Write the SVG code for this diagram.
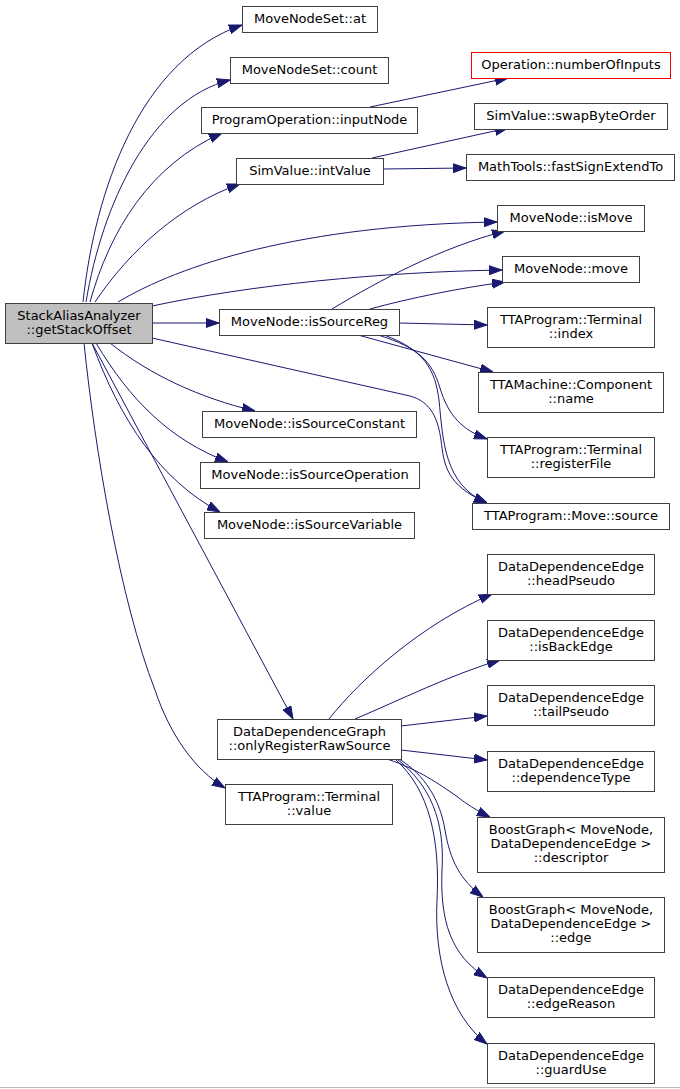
<svg xmlns="http://www.w3.org/2000/svg" width="680" height="1089" viewBox="0 0 680 1089">
<defs>
<marker id="arr" viewBox="0 0 13 10" refX="13" refY="5" markerWidth="13" markerHeight="10" markerUnits="userSpaceOnUse" orient="auto">
<path d="M0,0.5 L13,5 L0,9.5 z" fill="#191970" stroke="#191970" stroke-width="1"/>
</marker>
</defs>
<style>
.n rect{fill:#ffffff;stroke:#404040;stroke-width:1}
.n text{font-family:"DejaVu Sans","Noto Sans",sans-serif;font-size:13px;fill:#000;text-anchor:middle}
#n_root rect{fill:#bfbfbf}
#n_numin rect{stroke:#ff0000}
.e path{fill:none;stroke:#191970;stroke-width:1;marker-end:url(#arr)}
</style>
<rect x="0" y="0" width="680" height="1089" fill="#ffffff"/>
<line x1="0" y1="1087.5" x2="680" y2="1087.5" stroke="#bbbbbb" stroke-width="1"/>
<g id="edges" class="e">
<path d="M83,302 C95,190 140,60 242,25"/>
<path d="M86,302 C102,205 150,100 230,80"/>
<path d="M90,302 C110,230 150,165 222,133"/>
<path d="M95,302 C130,250 180,205 240,184"/>
<path d="M118,302 C180,265 300,225 497,222"/>
<path d="M152,306 C250,285 380,272 502,270"/>
<path d="M152,323 L219,323"/>
<path d="M152,338 L410,396 C432,402 438,420 441,440 C444,465 446,485 487,503"/>
<path d="M110,343 C150,375 200,398 255,411"/>
<path d="M96,343 C130,400 170,440 228,462"/>
<path d="M92,343 C120,420 160,480 220,512"/>
<path d="M92,343 L293,719"/>
<path d="M84,343 C95,450 120,600 155,690 C170,735 195,770 225,788"/>
<path d="M370,107 L508,78"/>
<path d="M372,158 L508,128"/>
<path d="M383,169 L466,168"/>
<path d="M332,309 C380,280 440,248 505,231"/>
<path d="M370,309 C410,298 460,288 505,282"/>
<path d="M399,323 L487,325"/>
<path d="M358,335 L493,372"/>
<path d="M378,335 C420,348 432,362 440,388 C448,415 462,430 487,439"/>
<path d="M384,335 C425,350 435,370 439,400 C443,440 444,485 487,503"/>
<path d="M329,719 C360,680 420,625 492,594"/>
<path d="M355,719 C400,700 450,675 500,660"/>
<path d="M401,726 L487,716"/>
<path d="M401,750 L487,760"/>
<path d="M387,759 C420,770 440,785 455,795 C465,803 477,811 490,817"/>
<path d="M399,759 C425,775 440,800 445,830 C450,860 460,880 483,897"/>
<path d="M397,759 C430,785 445,820 442,870 C440,920 450,955 487,978"/>
<path d="M395,759 C430,790 440,840 437,900 C434,960 450,1015 487,1044"/>
</g>
<g id="n_root" class="n"><rect x="5.5" y="303.5" width="147" height="40"/><text x="79" y="320">StackAliasAnalyzer</text><text x="79" y="334">::getStackOffset</text></g>
<g id="n_at" class="n"><rect x="242.5" y="6.5" width="135" height="26"/><text x="310" y="23">MoveNodeSet::at</text></g>
<g id="n_count" class="n"><rect x="230.5" y="57.5" width="158" height="26"/><text x="309.5" y="74">MoveNodeSet::count</text></g>
<g id="n_input" class="n"><rect x="201.5" y="107.5" width="216" height="26"/><text x="309.5" y="124">ProgramOperation::inputNode</text></g>
<g id="n_intval" class="n"><rect x="236.5" y="158.5" width="147" height="26"/><text x="310" y="175">SimValue::intValue</text></g>
<g id="n_numin" class="n"><rect x="471.5" y="52.5" width="199" height="26"/><text x="571" y="69">Operation::numberOfInputs</text></g>
<g id="n_swap" class="n"><rect x="474.5" y="103.5" width="193" height="26"/><text x="571" y="120">SimValue::swapByteOrder</text></g>
<g id="n_fast" class="n"><rect x="466.5" y="154.5" width="208" height="26"/><text x="570.5" y="171">MathTools::fastSignExtendTo</text></g>
<g id="n_ismove" class="n"><rect x="497.5" y="205.5" width="147" height="26"/><text x="571" y="222">MoveNode::isMove</text></g>
<g id="n_move" class="n"><rect x="502.5" y="256.5" width="137" height="26"/><text x="571" y="273">MoveNode::move</text></g>
<g id="n_isreg" class="n"><rect x="219.5" y="309.5" width="180" height="26"/><text x="309.5" y="326">MoveNode::isSourceReg</text></g>
<g id="n_index" class="n"><rect x="487.5" y="307.5" width="167" height="40"/><text x="571" y="324">TTAProgram::Terminal</text><text x="571" y="338">::index</text></g>
<g id="n_name" class="n"><rect x="478.5" y="372.5" width="185" height="40"/><text x="571" y="389">TTAMachine::Component</text><text x="571" y="403">::name</text></g>
<g id="n_regfile" class="n"><rect x="487.5" y="437.5" width="167" height="40"/><text x="571" y="454">TTAProgram::Terminal</text><text x="571" y="468">::registerFile</text></g>
<g id="n_src" class="n"><rect x="472.5" y="503.5" width="197" height="26"/><text x="571" y="520">TTAProgram::Move::source</text></g>
<g id="n_const" class="n"><rect x="202.5" y="411.5" width="214" height="26"/><text x="309.5" y="428">MoveNode::isSourceConstant</text></g>
<g id="n_oper" class="n"><rect x="200.5" y="462.5" width="219" height="26"/><text x="310" y="479">MoveNode::isSourceOperation</text></g>
<g id="n_var" class="n"><rect x="204.5" y="512.5" width="210" height="26"/><text x="309.5" y="529">MoveNode::isSourceVariable</text></g>
<g id="n_ddg" class="n"><rect x="217.5" y="719.5" width="184" height="40"/><text x="309.5" y="736">DataDependenceGraph</text><text x="309.5" y="750">::onlyRegisterRawSource</text></g>
<g id="n_value" class="n"><rect x="225.5" y="784.5" width="167" height="40"/><text x="309" y="801">TTAProgram::Terminal</text><text x="309" y="815">::value</text></g>
<g id="n_head" class="n"><rect x="487.5" y="554.5" width="167" height="40"/><text x="571" y="571">DataDependenceEdge</text><text x="571" y="585">::headPseudo</text></g>
<g id="n_back" class="n"><rect x="487.5" y="620.5" width="167" height="40"/><text x="571" y="637">DataDependenceEdge</text><text x="571" y="651">::isBackEdge</text></g>
<g id="n_tail" class="n"><rect x="487.5" y="685.5" width="167" height="40"/><text x="571" y="702">DataDependenceEdge</text><text x="571" y="716">::tailPseudo</text></g>
<g id="n_dep" class="n"><rect x="487.5" y="751.5" width="167" height="40"/><text x="571" y="768">DataDependenceEdge</text><text x="571" y="782">::dependenceType</text></g>
<g id="n_desc" class="n"><rect x="477.5" y="817.5" width="187" height="55"/><text x="571" y="834">BoostGraph&lt; MoveNode,</text><text x="571" y="848">DataDependenceEdge &gt;</text><text x="571" y="862">::descriptor</text></g>
<g id="n_edge" class="n"><rect x="477.5" y="897.5" width="187" height="55"/><text x="571" y="914">BoostGraph&lt; MoveNode,</text><text x="571" y="928">DataDependenceEdge &gt;</text><text x="571" y="942">::edge</text></g>
<g id="n_reason" class="n"><rect x="487.5" y="977.5" width="167" height="40"/><text x="571" y="994">DataDependenceEdge</text><text x="571" y="1008">::edgeReason</text></g>
<g id="n_guard" class="n"><rect x="487.5" y="1043.5" width="167" height="40"/><text x="571" y="1060">DataDependenceEdge</text><text x="571" y="1074">::guardUse</text></g>
</svg>
